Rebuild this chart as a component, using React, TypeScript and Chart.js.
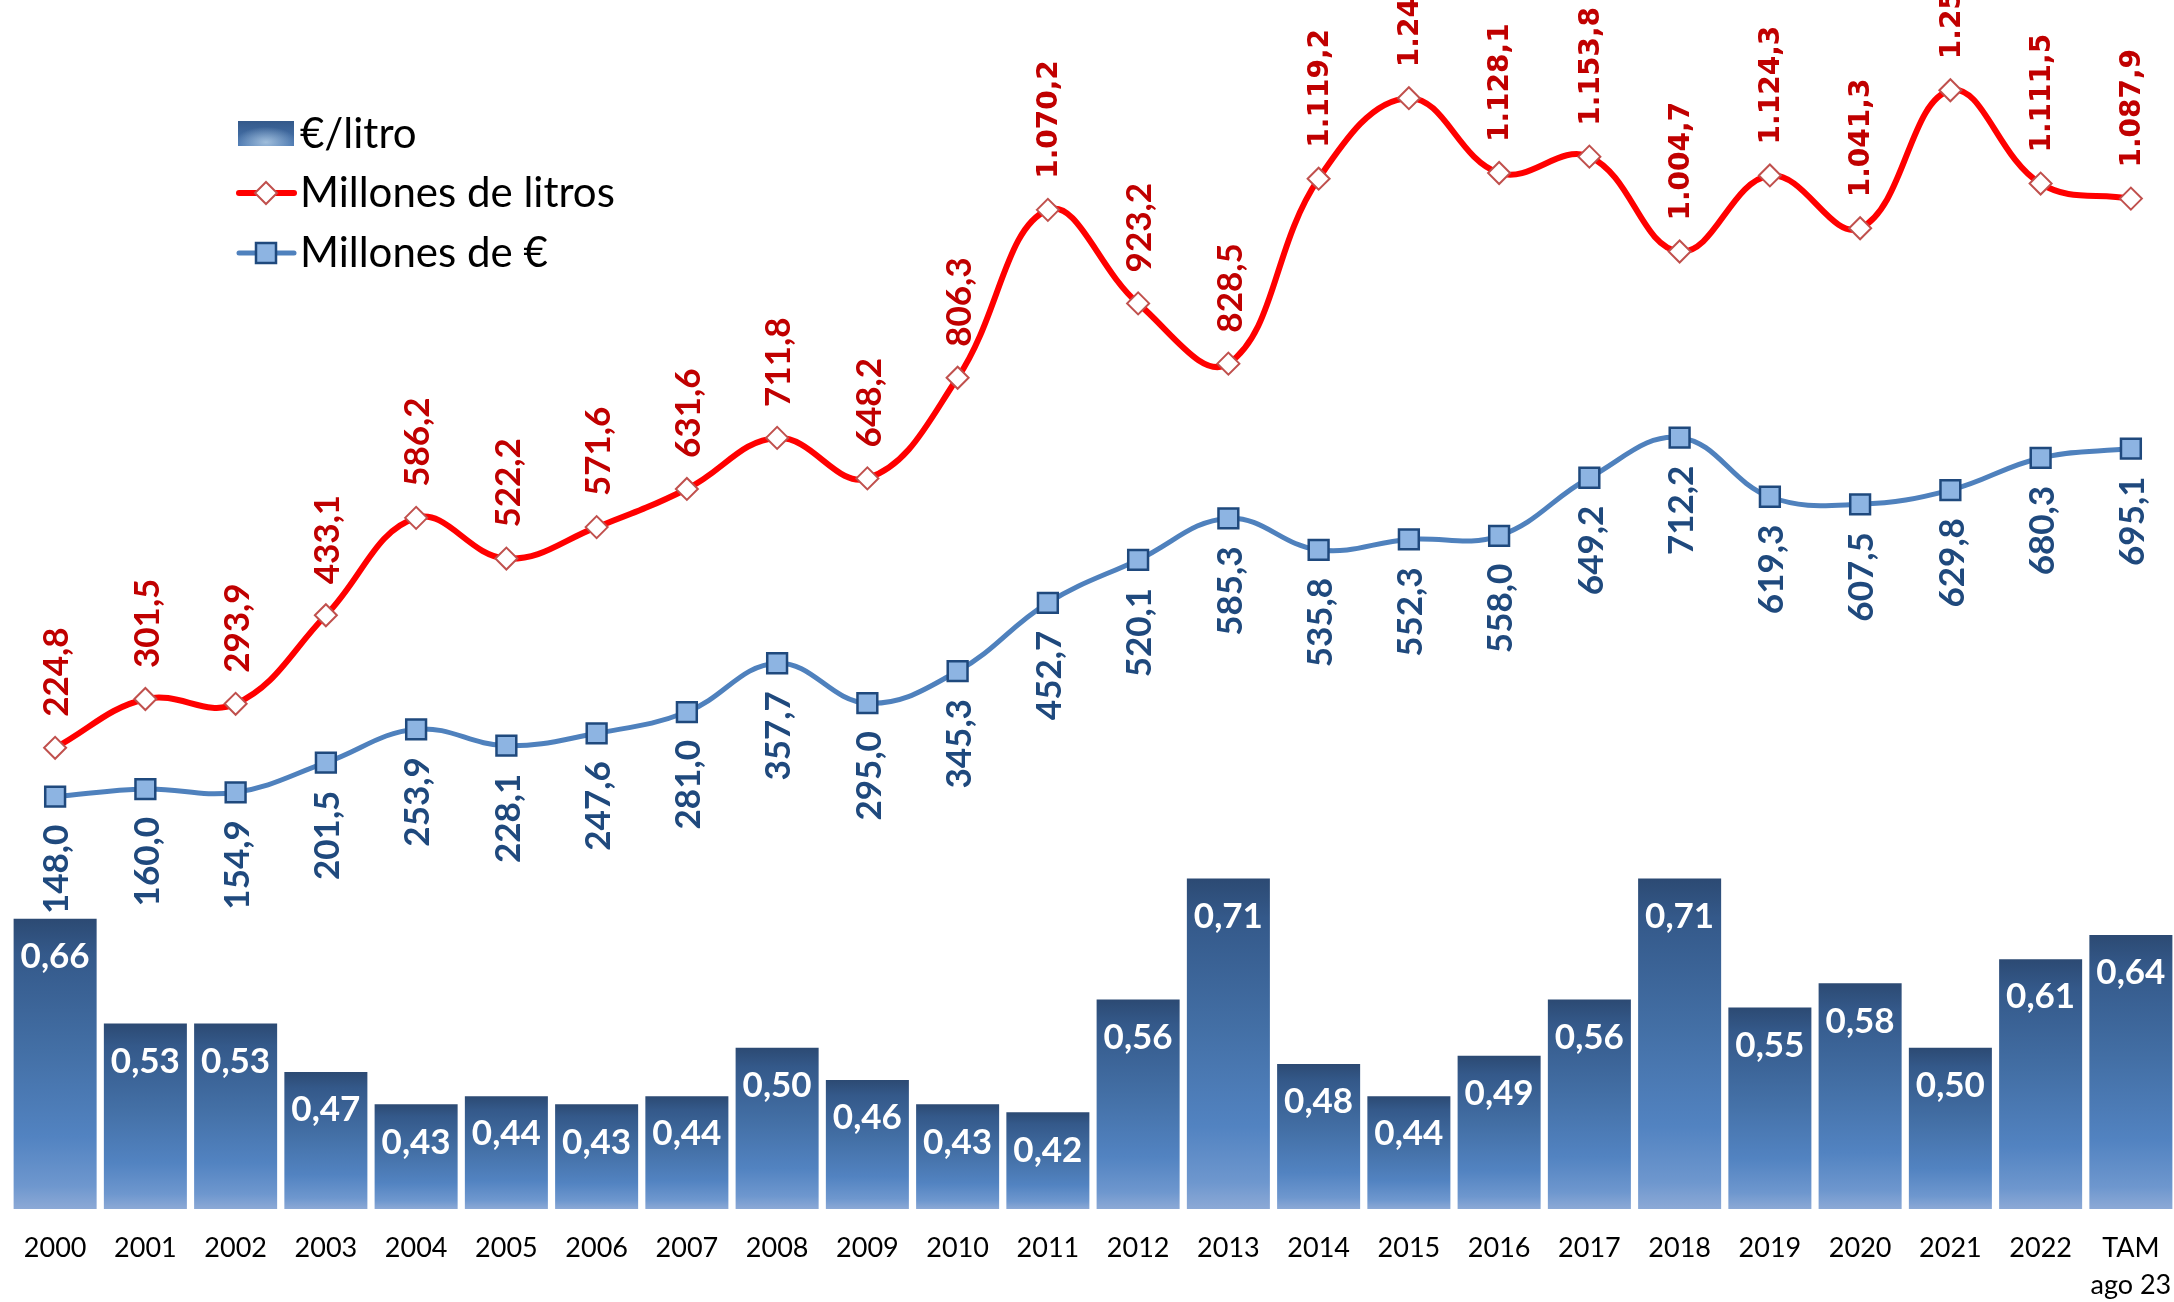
import React, { useEffect, useRef } from 'react';
import { Chart, registerables } from 'chart.js';

Chart.register(...registerables);

const categories: (string | string[])[] = [
  '2000', '2001', '2002', '2003', '2004', '2005', '2006', '2007', '2008', '2009',
  '2010', '2011', '2012', '2013', '2014', '2015', '2016', '2017', '2018', '2019',
  '2020', '2021', '2022', ['TAM', 'ago 23'],
];

const euroPorLitro = [
  0.66, 0.53, 0.53, 0.47, 0.43, 0.44, 0.43, 0.44, 0.50, 0.46,
  0.43, 0.42, 0.56, 0.71, 0.48, 0.44, 0.49, 0.56, 0.71, 0.55,
  0.58, 0.50, 0.61, 0.64,
];

const millonesLitros = [
  224.8, 301.5, 293.9, 433.1, 586.2, 522.2, 571.6, 631.6, 711.8, 648.2,
  806.3, 1070.2, 923.2, 828.5, 1119.2, 1245.7, 1128.1, 1153.8, 1004.7, 1124.3,
  1041.3, 1258.2, 1111.5, 1087.9,
];

const millonesEuros = [
  148.0, 160.0, 154.9, 201.5, 253.9, 228.1, 247.6, 281.0, 357.7, 295.0,
  345.3, 452.7, 520.1, 585.3, 535.8, 552.3, 558.0, 649.2, 712.2, 619.3,
  607.5, 629.8, 680.3, 695.1,
];

const legendLabels = ['€/litro', 'Millones de litros', 'Millones de €'];

const W = 2174;
const H = 1302;
const CW = 2178;

const fmt = (v: number, d: number) => {
  const s = v.toFixed(d);
  const [i, f] = s.split('.');
  const ii = i.replace(/\B(?=(\d{3})+(?!\d))/g, '.');
  return f ? ii + ',' + f : ii;
};

const RED_LABEL = '#C00000';
const BLUE_LABEL = '#1F497D';

const barGradient = (c: CanvasRenderingContext2D, top: number, bottom: number) => {
  const g = c.createLinearGradient(0, top, 0, bottom);
  g.addColorStop(0, '#2C4A73');
  g.addColorStop(0.12, '#34598A');
  g.addColorStop(0.45, '#436FA5');
  g.addColorStop(0.75, '#5283C1');
  g.addColorStop(0.92, '#6E97CE');
  g.addColorStop(1, '#8CA9D6');
  return g;
};

const customPlugin = {
  id: 'customLabels',
  afterDatasetDraw(chart: any, args: any) {
    if (args.index !== 0) return;
    const c: CanvasRenderingContext2D = chart.ctx;
    const meta = chart.getDatasetMeta(0);
    meta.data.forEach((bar: any) => {
      const { x, y, base, width } = bar.getProps(['x', 'y', 'base', 'width'], true);
      const h = base - y;
      c.save();
      c.beginPath();
      c.rect(x - width / 2, y, width, h);
      c.clip();
      c.translate(x, base);
      c.scale(1, 0.45);
      const rg = c.createRadialGradient(0, 0, 0, 0, 0, width * 0.75);
      rg.addColorStop(0, 'rgba(175,198,232,0.75)');
      rg.addColorStop(1, 'rgba(175,198,232,0)');
      c.fillStyle = rg;
      c.fillRect(-width, -width * 2, width * 2, width * 2);
      c.restore();
    });
  },
  afterDatasetsDraw(chart: any) {
    const c: CanvasRenderingContext2D = chart.ctx;
    const barMeta = chart.getDatasetMeta(0);
    c.save();
    c.fillStyle = '#FFFFFF';
    c.textAlign = 'center';
    c.textBaseline = 'middle';
    c.font = 'bold 35px Lato';
    barMeta.data.forEach((bar: any, i: number) => {
      c.fillText(fmt(euroPorLitro[i], 2), bar.x, bar.y + 38);
    });
    c.restore();

    const drawRot = (x: number, y: number, text: string, big: boolean, above: boolean, color: string) => {
      c.save();
      c.translate(x + 2, y);
      c.rotate(-Math.PI / 2);
      c.fillStyle = color;
      c.textBaseline = 'middle';
      c.font = big ? 'bold 28px "DejaVu Sans"' : 'bold 35px Lato';
      if (above) {
        c.textAlign = 'left';
        c.fillText(text, 31, 0);
      } else {
        c.textAlign = 'right';
        c.fillText(text, -28, 0);
      }
      c.restore();
    };

    const redMeta = chart.getDatasetMeta(1);
    redMeta.data.forEach((p: any, i: number) => {
      const v = millonesLitros[i];
      drawRot(p.x, p.y, fmt(v, 1), v >= 1000, true, RED_LABEL);
    });
    const blueMeta = chart.getDatasetMeta(2);
    blueMeta.data.forEach((p: any, i: number) => {
      const v = millonesEuros[i];
      drawRot(p.x, p.y, fmt(v, 1), v >= 1000, false, BLUE_LABEL);
    });
  },
  afterDraw(chart: any) {
    const c: CanvasRenderingContext2D = chart.ctx;
    c.save();
    const sx = 238, sy = 121, sw = 56, sh = 25;
    const lg = c.createLinearGradient(0, sy, 0, sy + sh);
    lg.addColorStop(0, '#34598A');
    lg.addColorStop(1, '#4A78B2');
    c.fillStyle = lg;
    c.fillRect(sx, sy, sw, sh);
    c.save();
    c.beginPath();
    c.rect(sx, sy, sw, sh);
    c.clip();
    c.translate(sx + sw / 2, sy + sh * 0.85);
    c.scale(1, 0.5);
    const rg = c.createRadialGradient(0, 0, 0, 0, 0, sw * 0.55);
    rg.addColorStop(0, 'rgba(170,198,225,0.9)');
    rg.addColorStop(1, 'rgba(170,198,225,0)');
    c.fillStyle = rg;
    c.fillRect(-sw, -sh * 3, sw * 2, sh * 6);
    c.restore();

    c.strokeStyle = '#FF0000';
    c.lineWidth = 6;
    c.lineCap = 'round';
    c.beginPath();
    c.moveTo(239, 193);
    c.lineTo(294, 193);
    c.stroke();
    c.beginPath();
    c.moveTo(266 - 11, 193);
    c.lineTo(266, 182);
    c.lineTo(266 + 11, 193);
    c.lineTo(266, 204);
    c.closePath();
    c.fillStyle = '#FFFFFF';
    c.fill();
    c.lineWidth = 2;
    c.strokeStyle = '#C0504D';
    c.stroke();

    c.strokeStyle = '#4F81BD';
    c.lineWidth = 5;
    c.beginPath();
    c.moveTo(239, 253);
    c.lineTo(294, 253);
    c.stroke();
    c.fillStyle = '#8DB4E2';
    c.fillRect(256, 243, 20, 20);
    c.lineWidth = 2.5;
    c.strokeStyle = '#1F497D';
    c.strokeRect(256, 243, 20, 20);

    c.fillStyle = '#000000';
    c.font = '42px Lato';
    c.textAlign = 'left';
    c.textBaseline = 'middle';
    c.fillText(legendLabels[0], 300, 134);
    c.fillText(legendLabels[1], 300, 193);
    c.fillText(legendLabels[2], 300, 253);
    c.restore();
  },
};

export default function App() {
  const ref = useRef<HTMLCanvasElement | null>(null);

  useEffect(() => {
    if (!ref.current) return;
    const chart = new Chart(ref.current, {
      type: 'bar',
      data: {
        labels: categories as any,
        datasets: [
          {
            type: 'bar',
            label: legendLabels[0],
            data: euroPorLitro,
            yAxisID: 'yBar',
            order: 3,
            barPercentage: 0.92,
            categoryPercentage: 1,
            backgroundColor: (ctx: any) => {
              const chart = ctx.chart;
              if (ctx.type !== 'data' || !chart.chartArea || !chart.scales.yBar) return '#4572A7';
              const top = chart.scales.yBar.getPixelForValue(ctx.raw);
              const bottom = chart.scales.yBar.getPixelForValue(chart.scales.yBar.min);
              if (!isFinite(top) || !isFinite(bottom) || bottom <= top) return '#4572A7';
              return barGradient(chart.ctx, top, bottom);
            },
            borderWidth: 0,
          } as any,
          {
            type: 'line',
            label: legendLabels[1],
            data: millonesLitros,
            yAxisID: 'yLine',
            order: 2,
            borderColor: '#FF0000',
            borderWidth: 6,
            tension: 0.4,
            pointStyle: 'rectRot',
            pointRadius: 11,
            pointBorderWidth: 2,
            pointBorderColor: '#C0504D',
            pointBackgroundColor: '#FFFFFF',
            fill: false,
          } as any,
          {
            type: 'line',
            label: legendLabels[2],
            data: millonesEuros,
            yAxisID: 'yLine',
            order: 1,
            borderColor: '#4F81BD',
            borderWidth: 5,
            tension: 0.4,
            pointStyle: 'rect',
            pointRadius: 14,
            pointBorderWidth: 2.5,
            pointBorderColor: '#1F497D',
            pointBackgroundColor: '#8DB4E2',
            fill: false,
          } as any,
        ],
      },
      options: {
        animation: false,
        responsive: false,
        maintainAspectRatio: false,
        devicePixelRatio: 1,
        layout: { autoPadding: false, padding: { left: 10, right: 2, top: 0, bottom: 0 } },
        plugins: {
          legend: { display: false },
          tooltip: { enabled: false },
          title: { display: false },
        },
        scales: {
          x: {
            offset: true,
            grid: { display: false, drawTicks: false },
            border: { display: false },
            ticks: {
              color: '#000000',
              font: { family: 'Lato', size: 27, lineHeight: 1.4 },
              padding: 20,
              maxRotation: 0,
              autoSkip: false,
            },
            afterFit: (scale: any) => {
              scale.height = 93;
              scale.paddingLeft = 0;
              scale.paddingRight = 0;
            },
          },
          yBar: {
            type: 'linear',
            position: 'left',
            display: false,
            min: 0.3,
            max: 1.8,
          },
          yLine: {
            type: 'linear',
            position: 'right',
            display: false,
            min: -500,
            max: 1400,
          },
        },
      },
      plugins: [customPlugin],
    } as any);
    return () => chart.destroy();
  }, []);

  return (
    <div style={{ position: 'absolute', left: 0, top: 0, width: W, height: H, overflow: 'hidden', background: '#FFFFFF' }}>
      <canvas ref={ref} width={CW} height={H} style={{ width: CW, height: H, display: 'block' }} />
    </div>
  );
}
